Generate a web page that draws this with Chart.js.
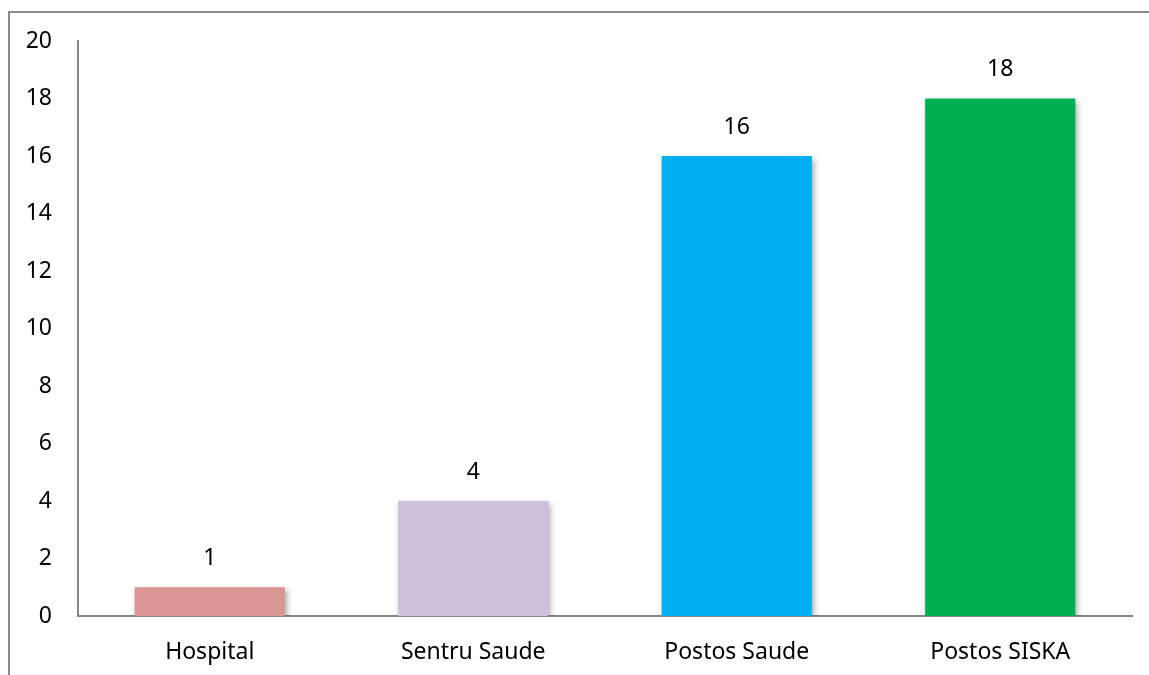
<!DOCTYPE html>
<html><head><meta charset="utf-8">
<script src="https://cdn.jsdelivr.net/npm/chart.js@4"></script>
<style>html,body{margin:0;padding:0;background:#fff}#wrap{width:1149px;height:675px}</style>
</head><body><div id="wrap"><canvas id="c" width="1149" height="675"></canvas></div>
<script>
const categories = ["Hospital", "Sentru Saude", "Postos Saude", "Postos SISKA"];
const values = [1, 4, 16, 18];
const barColors = ["#D99694", "#CCC0DA", "#00B0F0", "#00B050"];
const yTicks = [0, 2, 4, 6, 8, 10, 12, 14, 16, 18, 20];

const FONT = "'Noto Sans', 'Open Sans', sans-serif";

const frame = {
  id: 'frame',
  beforeDraw(chart) {
    const ctx = chart.ctx;
    ctx.save();
    ctx.strokeStyle = '#8a8a8a';
    ctx.lineWidth = 2;
    ctx.beginPath();
    ctx.moveTo(9, 675);
    ctx.lineTo(9, 12);
    ctx.lineTo(1149, 12);
    ctx.stroke();
    ctx.restore();
  }
};
const shadow = {
  id: 'shadow',
  beforeDatasetDraw(chart) {
    const ctx = chart.ctx;
    ctx.save();
    ctx.shadowColor = 'rgba(0,0,0,0.35)';
    ctx.shadowBlur = 6;
    ctx.shadowOffsetX = 2;
    ctx.shadowOffsetY = 3;
  },
  afterDatasetDraw(chart) { chart.ctx.restore(); }
};
const labels = {
  id: 'labels',
  afterDatasetsDraw(chart) {
    const ctx = chart.ctx;
    const meta = chart.getDatasetMeta(0);
    ctx.save();
    ctx.fillStyle = '#000';
    ctx.font = '23px ' + FONT;
    ctx.textAlign = 'center';
    ctx.textBaseline = 'middle';
    meta.data.forEach((bar, i) => {
      ctx.fillText(String(values[i]), bar.x, bar.y - 29);
    });
    ctx.restore();
  }
};

new Chart(document.getElementById('c'), {
  type: 'bar',
  data: {
    labels: categories,
    datasets: [{
      data: values,
      backgroundColor: barColors,
      borderWidth: 0,
      categoryPercentage: 1,
      barPercentage: 0.57
    }]
  },
  options: {
    responsive: false,
    animation: false,
    events: [],
    layout: { padding: { left: 9, top: 41, right: 17, bottom: 0 } },
    plugins: { legend: { display: false }, tooltip: { enabled: false } },
    scales: {
      x: {
        grid: { display: false, drawTicks: false },
        border: { display: true, color: '#868686', width: 2 },
        ticks: { color: '#000', font: { family: FONT, size: 23 }, padding: 23, maxRotation: 0 },
        afterFit(s) { s.height = 59; }
      },
      y: {
        min: 0, max: 20,
        afterBuildTicks(s) { s.ticks = yTicks.map(v => ({ value: v })); },
        grid: { display: false, drawTicks: false },
        border: { display: true, color: '#868686', width: 2 },
        ticks: { color: '#000', font: { family: FONT, size: 23 }, padding: 26 },
        afterFit(s) { s.width = 69; }
      }
    }
  },
  plugins: [frame, shadow, labels]
});
</script></body></html>
